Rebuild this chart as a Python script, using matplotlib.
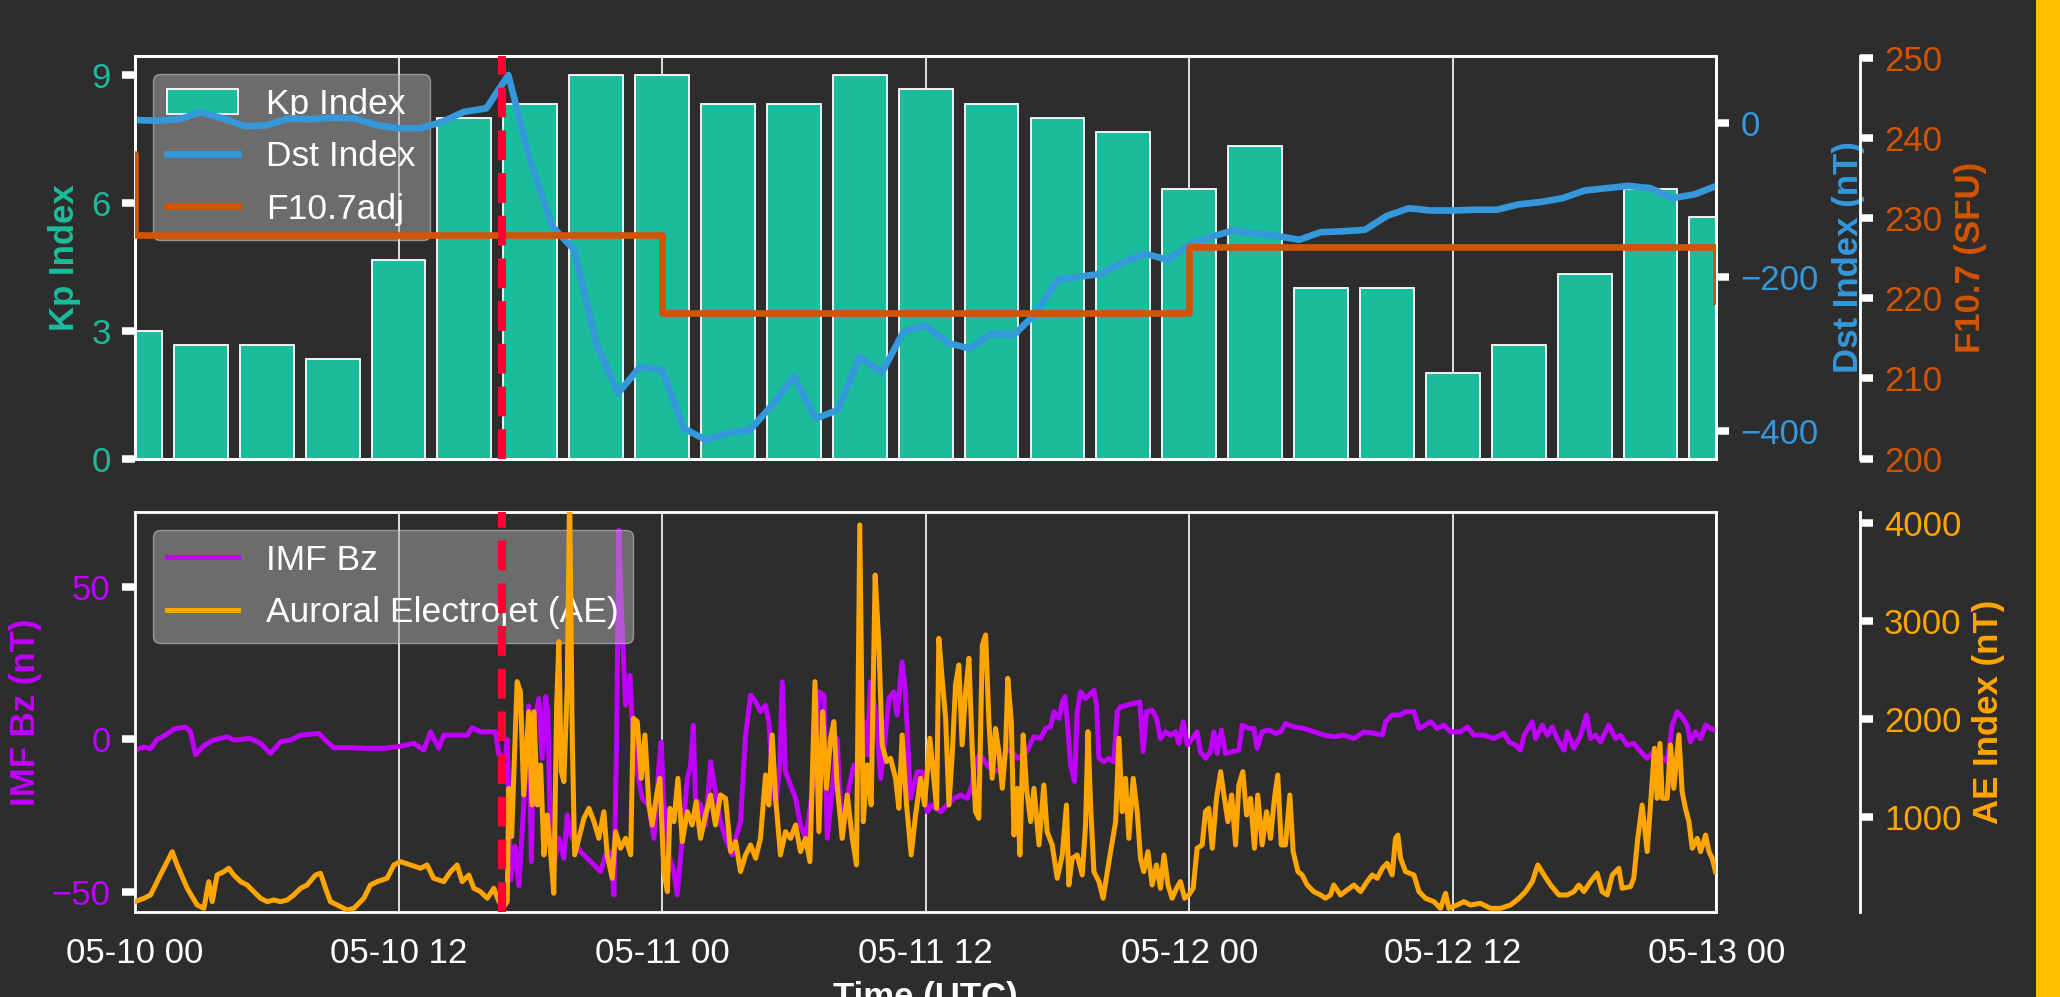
import numpy as np
import pandas as pd
import matplotlib
matplotlib.use('Agg')
from matplotlib import pyplot as plt
import matplotlib.dates as mdates
from matplotlib.patches import Rectangle

plt.rcParams['font.family'] = ['Liberation Sans', 'DejaVu Sans']
plt.rcParams['font.size'] = 25

BG = '#2d2d2d'
KP_C = '#1abc9c'
DST_C = '#3498db'
F107_C = '#d35400'
BZ_C = '#bf00ff'
AE_C = '#ffa500'
ONSET_C = '#ff0033'

start = pd.Timestamp('2024-05-10 00:00')
end = pd.Timestamp('2024-05-13 00:00')
onset = pd.Timestamp('2024-05-10 16:43')


def at(hours):
    return start + pd.to_timedelta(np.asarray(hours, dtype=float), unit='h')


# 3-hourly Kp
kp_hours = np.arange(0, 73, 3)
kp = [3.0, 2.67, 2.67, 2.33, 4.67, 8.0, 8.33, 9.0, 9.0, 8.33, 8.33, 9.0, 8.67,
      8.33, 8.0, 7.67, 6.33, 7.33, 4.0, 4.0, 2.0, 2.67, 4.33, 6.33, 5.67]

# hourly Dst (nT)
dst_hours = np.arange(0, 73)
dst = [3.5, 2.6, 4.4, 13.5, 5.7, -4.3, -3.4, 5.7, 4.4, 6.5, 5.7, -3, -7.3,
       -7.3, 1.3, 14.3, 18.7, 62, -50, -135, -165, -286, -351, -317, -321,
       -397, -412, -403, -399, -367, -330, -384, -373, -304, -325, -271, -263,
       -286, -293, -274, -276, -248, -204, -200, -196, -181, -170, -178, -159,
       -148, -140, -144, -147, -152, -142, -141, -139, -121, -111, -114, -114,
       -113, -113, -106, -103, -98, -88, -85, -82, -85, -98, -93, -82]

# daily adjusted F10.7 (SFU)
f107_days = [-1, 0, 1, 2, 3]
f107 = [238.0, 227.9, 218.1, 226.4, 219.7]

# IMF Bz (hour, nT)
bz_pts = [
    (0.0, -3.5), (0.41, -2.5), (0.71, -3), (1.01, 0), (1.39, 1.4), (1.77, 3.4), (2.30, 4.1),
    (2.53, 2.5), (2.76, -5), (3.14, -2), (3.59, -0.2), (4.2, 0.9), (4.5, -0.2), (5.26, 0.3),
    (5.72, -1.3), (6.17, -4.6), (6.63, -0.8), (7.08, -0.2), (7.54, 1.4), (8.37, 2), (8.75, -0.8),
    (9.05, -2.7), (9.81, -2.7), (10.57, -2.9), (11.33, -2.9), (11.94, -2.4), (12.7, -1.3),
    (13.15, -3.5), (13.46, 2.5), (13.61, 0.3), (13.83, -2.9), (14.06, 1.4), (14.67, 1.4),
    (15.12, 1.4), (15.35, 3.8), (15.73, 2.5), (16.41, 2.5), (16.57, -5),
    (16.64, -5), (16.8, -12), (16.95, 0), (17.1, -46), (17.3, -35), (17.48, -48), (17.7, -21.5),
    (17.93, 11), (18.05, -40), (18.17, 5.8), (18.39, 13.4), (18.54, -6.2), (18.7, 14), (18.8, 9),
    (18.92, -32.4), (19.07, -41.1), (19.3, -32.4), (19.53, -38.9), (19.68, -24.8), (19.83, -31.3),
    (20.29, -36.8), (20.59, -38.9), (20.9, -41.1), (21.2, -43.3), (21.43, -37.8), (21.66, -36.8),
    (21.81, -50.9), (21.93, 0.3), (22.03, 68.5), (22.14, 43.9), (22.34, 11.2), (22.54, 21),
    (22.64, 5.8), (22.87, -10.6), (23.1, -19.3), (23.4, -21.5), (23.63, -32.4), (23.86, -8.4),
    (23.96, -0.8), (24.08, -21.5), (24.31, -37.8), (24.54, -43.3), (24.69, -50.9), (24.92, -32.4),
    (25.15, -12.8), (25.3, -8.4), (25.42, 4.7), (25.52, -19.3), (25.75, -21.5), (25.98, -28),
    (26.21, -7.3), (26.43, -17.1), (26.66, -26.9), (26.89, -32.4), (27.19, -37.8), (27.35, -32.4),
    (27.57, -26.9), (27.8, 1.4), (28.03, 14.5), (28.26, 12.3), (28.48, 9.1), (28.71, 11.2),
    (28.86, 5.8), (29.01, -10.6), (29.17, -21.5), (29.36, -8.4), (29.47, 18.9), (29.62, -10.6),
    (29.85, -14.9), (30.08, -19.3), (30.3, -28), (30.53, -32.4), (30.76, -21.5), (30.99, -6.2),
    (31.14, 15.6), (31.37, 14.5), (31.52, -32.4), (31.75, -16), (31.97, 0.3), (32.2, -32.4),
    (32.5, -16), (32.73, -8.4), (32.96, -10.6), (33.19, 5.8), (33.34, -5.1), (33.49, 18.9),
    (33.72, 9.1), (33.95, -12.8), (34.17, 1.4), (34.33, 13.4), (34.55, 15.6), (34.7, 8),
    (34.93, 25.4), (35.08, 15.6), (35.31, -19.3), (35.62, -10.6), (35.84, -10.6), (36.07, -23.7),
    (36.3, -21.5), (36.38, -22), (36.68, -23.7), (36.98, -21.5), (37.29, -19.3), (37.59, -18.2),
    (37.89, -19.3), (38.12, -14.9), (38.27, -6.2), (38.5, -5.1), (38.8, -8.4), (39.11, -10.6),
    (39.41, -9.5), (39.64, -4), (39.87, -3.5), (40.17, -6.2), (40.55, -4.6), (40.93, 0.9),
    (41.23, 0.3), (41.46, 3.6), (41.69, 4.1), (41.84, 9.1), (42.07, 6.9), (42.22, 12.3),
    (42.34, 14), (42.45, 5.8), (42.6, -8.4), (42.78, -13.8), (42.9, 9.1), (43.05, 15.6),
    (43.28, 13.4), (43.51, 15), (43.66, 16.1), (43.78, 11.2), (43.89, -6.2), (44.11, -7.3),
    (44.34, -6.2), (44.57, -7.3), (44.72, 9.1), (44.87, 10.7), (45.18, 11.2), (45.48, 11.8),
    (45.75, 12.3), (45.9, -4), (46.06, 9.1), (46.31, 9.6), (46.51, 6.9), (46.69, 0.3),
    (46.92, 2.5), (47.15, 1.4), (47.38, 2.5), (47.53, -1.3), (47.73, 5.8), (47.91, -1.9),
    (48.14, 0.3), (48.36, 2.5), (48.51, -4), (48.74, -6.2), (48.97, -4), (49.12, 2.5),
    (49.27, -4.6), (49.46, 3.1), (49.65, -4.6), (49.96, -4), (50.26, -3.5), (50.41, 4.7),
    (50.71, 3.6), (50.94, 3.6), (51.09, -2.9), (51.32, 2.5), (51.63, 3.1), (51.93, 2),
    (52.16, 2.5), (52.38, 5.2), (52.76, 4.1), (53.22, 3.6), (53.67, 2.5), (54.13, 1.4),
    (54.58, 0.9), (55.04, 1.4), (55.5, 0.3), (55.95, 2.5), (56.41, 2), (56.79, 1.4), (56.94, 5.8),
    (57.24, 8), (57.62, 8), (57.85, 9.1), (58.23, 9.1), (58.46, 3.6), (58.76, 4.7), (58.99, 5.8),
    (59.29, 3.6), (59.59, 4.7), (59.9, 2.5), (60.35, 2.5), (60.66, 4.1), (60.96, 1.4),
    (61.41, 1.4), (61.87, 0.3), (62.33, 2), (62.55, -0.8), (62.86, -1.9), (63.08, -3.5),
    (63.24, 1.4), (63.62, 5.8), (63.77, 0.3), (64.07, 4.7), (64.3, 1.4), (64.53, 4.1),
    (64.75, 0.3), (65.06, -3.5), (65.21, 2.5), (65.51, -2.9), (65.82, 1.4), (66.09, 8),
    (66.27, 0.3), (66.5, 1.4), (66.73, -0.8), (67.1, 4.7), (67.41, 0.3), (67.64, 1.4),
    (67.94, -1.9), (68.24, -1.3), (68.55, -4), (68.85, -6.2), (69.15, -4), (69.38, -5.1),
    (69.61, -6.2), (69.76, -7.3), (69.99, 4.7), (70.22, 9.1), (70.44, 7.4), (70.67, 4.7),
    (70.82, -0.8), (71.05, 2.5), (71.28, 0.3), (71.51, 4.7), (71.73, 3.6), (71.96, 3.1),
]

# auroral electrojet (hour, nT)
ae_pts = [
    (0.0, 137), (0.41, 171), (0.71, 205), (1.16, 409), (1.47, 545), (1.70, 646), (1.92, 511),
    (2.38, 273), (2.83, 103), (3.14, 69), (3.36, 341), (3.52, 137), (3.74, 409), (4.05, 443),
    (4.27, 477), (4.50, 409), (4.81, 341), (5.11, 307), (5.41, 239), (5.72, 171), (6.02, 137),
    (6.32, 154), (6.63, 137), (6.93, 154), (7.23, 205), (7.54, 273), (7.84, 307), (8.22, 409),
    (8.45, 426), (8.68, 273), (8.90, 137), (9.21, 103), (9.66, 52), (9.97, 69), (10.42, 171),
    (10.72, 307), (11.03, 341), (11.48, 375), (11.79, 511), (12.09, 545), (12.54, 511),
    (13.0, 477), (13.3, 511), (13.6, 375), (14.06, 341), (14.37, 443), (14.67, 511), (14.9, 341),
    (15.2, 409), (15.43, 273), (15.73, 239), (16.04, 171), (16.34, 273), (16.57, 137),
    (16.79, 86), (16.95, 137), (17.02, 1292), (17.15, 800), (17.4, 2379), (17.55, 2277),
    (17.7, 1224), (17.93, 2073), (18.08, 1122), (18.17, 2073), (18.32, 1122), (18.47, 1530),
    (18.62, 613), (18.77, 1020), (18.92, 647), (19.07, 222), (19.2, 2141), (19.3, 2787),
    (19.41, 1462), (19.53, 1360), (19.68, 2311), (19.79, 4300), (19.91, 1802), (20.02, 613),
    (20.21, 782), (20.44, 986), (20.67, 1088), (20.9, 952), (21.12, 782), (21.35, 1054),
    (21.5, 613), (21.73, 375), (21.88, 850), (22.11, 681), (22.34, 782), (22.57, 613),
    (22.69, 2005), (22.87, 1972), (23.05, 1394), (23.22, 1836), (23.4, 1122), (23.55, 918),
    (23.75, 1224), (23.9, 1394), (24.08, 443), (24.24, 239), (24.36, 1088), (24.54, 952),
    (24.72, 1394), (24.92, 748), (25.15, 1054), (25.37, 918), (25.55, 1156), (25.75, 782),
    (25.98, 1020), (26.21, 1224), (26.43, 918), (26.66, 1224), (26.89, 1190), (27.12, 647),
    (27.35, 748), (27.57, 443), (27.8, 613), (28.03, 715), (28.26, 579), (28.48, 782),
    (28.71, 1428), (28.86, 1122), (29.01, 1836), (29.17, 1190), (29.39, 613), (29.62, 850),
    (29.85, 782), (30.08, 918), (30.3, 647), (30.53, 782), (30.73, 545), (30.96, 2379),
    (31.14, 850), (31.31, 2073), (31.49, 1292), (31.67, 1802), (31.82, 1972), (31.97, 1326),
    (32.2, 782), (32.43, 1224), (32.66, 782), (32.85, 511), (33.0, 3976), (33.16, 952),
    (33.34, 1530), (33.52, 1122), (33.7, 3466), (33.87, 2753), (34.02, 1734), (34.22, 1564),
    (34.4, 1598), (34.63, 1394), (34.78, 1088), (34.93, 1836), (35.13, 1122), (35.34, 613),
    (35.54, 1020), (35.77, 1394), (35.95, 1122), (36.19, 1802), (36.34, 1462), (36.5, 1088),
    (36.6, 2821), (36.75, 2413), (36.91, 2005), (37.06, 1122), (37.21, 1632), (37.36, 2345),
    (37.51, 2549), (37.66, 1734), (37.82, 2277), (37.97, 2617), (38.12, 1700), (38.27, 1054),
    (38.42, 986), (38.58, 2753), (38.73, 2855), (38.88, 1972), (39.03, 1394), (39.18, 1903),
    (39.33, 1666), (39.49, 1292), (39.64, 1700), (39.74, 2413), (39.9, 1972), (40.02, 816),
    (40.17, 1292), (40.29, 613), (40.44, 1836), (40.59, 1292), (40.78, 952), (40.93, 1292),
    (41.16, 715), (41.38, 1326), (41.53, 850), (41.76, 715), (41.99, 375), (42.22, 613),
    (42.41, 1122), (42.52, 307), (42.67, 579), (42.9, 613), (43.13, 409), (43.28, 918),
    (43.39, 1870), (43.51, 1122), (43.66, 443), (43.89, 341), (44.08, 171), (44.27, 443),
    (44.42, 647), (44.65, 952), (44.8, 1802), (44.95, 1054), (45.1, 1394), (45.25, 782),
    (45.45, 1394), (45.63, 1054), (45.78, 579), (45.93, 443), (46.12, 647), (46.31, 307),
    (46.51, 511), (46.69, 273), (46.85, 613), (47.03, 307), (47.22, 171), (47.42, 273),
    (47.6, 341), (47.79, 171), (47.98, 205), (48.18, 273), (48.36, 681), (48.59, 715),
    (48.74, 1054), (48.89, 1088), (49.05, 681), (49.24, 1190), (49.43, 1462), (49.58, 1224),
    (49.76, 952), (49.93, 1224), (50.11, 715), (50.26, 1326), (50.44, 1462), (50.61, 1020),
    (50.79, 1190), (50.97, 681), (51.12, 1224), (51.32, 715), (51.52, 1054), (51.7, 782),
    (51.88, 1190), (52.03, 1428), (52.19, 715), (52.38, 715), (52.58, 1224), (52.73, 647),
    (52.95, 443), (53.14, 409), (53.37, 307), (53.67, 239), (53.98, 205), (54.2, 171),
    (54.43, 205), (54.58, 307), (54.89, 205), (55.19, 256), (55.5, 307), (55.8, 239),
    (56.1, 341), (56.33, 409), (56.56, 375), (56.79, 477), (57.01, 528), (57.24, 409),
    (57.39, 782), (57.5, 816), (57.62, 579), (57.85, 443), (58.23, 409), (58.46, 239),
    (58.76, 171), (59.14, 137), (59.44, 69), (59.67, 222), (59.82, 69), (60.2, 103),
    (60.5, 137), (60.81, 103), (61.26, 120), (61.72, 69), (62.17, 69), (62.63, 103),
    (63.01, 171), (63.31, 239), (63.62, 341), (63.87, 511), (64.15, 409), (64.45, 307),
    (64.83, 205), (65.21, 205), (65.51, 239), (65.74, 307), (65.97, 239), (66.27, 341),
    (66.57, 426), (66.8, 239), (67.03, 205), (67.26, 409), (67.56, 477), (67.71, 273),
    (68.09, 290), (68.24, 375), (68.42, 782), (68.62, 1122), (68.85, 647), (69.0, 1122),
    (69.18, 1700), (69.3, 1190), (69.43, 1750), (69.53, 1190), (69.76, 1190), (69.91, 1734),
    (70.06, 1292), (70.29, 1836), (70.44, 1258), (70.59, 1088), (70.75, 952), (70.9, 681),
    (71.13, 782), (71.28, 647), (71.51, 816), (71.66, 647), (71.81, 579), (71.96, 443),
]

bz_hours, bz = np.array(bz_pts).T
ae_hours, ae = np.array(ae_pts).T

fig = plt.figure(figsize=(20.6, 9.97), dpi=100, facecolor=BG)
ax_kp = fig.add_axes([0.0655, 0.5401, 0.7677, 0.4037])
ax_bz = fig.add_axes([0.0655, 0.0853, 0.7677, 0.4012], sharex=ax_kp)
ax_dst = ax_kp.twinx()
ax_f107 = ax_kp.twinx()
ax_ae = ax_bz.twinx()

for ax in (ax_kp, ax_bz):
    ax.set_facecolor(BG)
    ax.set_axisbelow(True)
    ax.grid(axis='x', color='white', lw=1.2)
for ax in (ax_kp, ax_bz, ax_dst, ax_f107, ax_ae):
    for sp in ax.spines.values():
        sp.set_color('white')
        sp.set_linewidth(2)
for ax in (ax_f107, ax_ae):
    ax.spines['right'].set_position(('axes', 1.0907))
    for side in ('left', 'top', 'bottom'):
        ax.spines[side].set_visible(False)

# top panel
ax_kp.bar(at(kp_hours), kp, width=2.45 / 24, color=KP_C, edgecolor='white',
          linewidth=1.3, label='Kp Index')
ax_dst.plot(at(dst_hours), dst, color=DST_C, lw=4.8, label='Dst Index')
f107_t = start + pd.to_timedelta(f107_days, unit='D')
ax_f107.step(f107_t, f107, where='post', color=F107_C, lw=4.8, label='F10.7adj')
ax_f107.axvline(onset, color=ONSET_C, ls='--', lw=5.8)

# bottom panel
ax_bz.plot(at(bz_hours), bz, color=BZ_C, lw=3.6, label='IMF Bz')
ax_ae.plot(at(ae_hours), ae, color=AE_C, lw=3.6, label='Auroral Electrojet (AE)')
ax_ae.axvline(onset, color=ONSET_C, ls='--', lw=5.8)

ax_kp.set_xlim(start, end)
ax_kp.set_ylim(0, 9.45)
ax_kp.set_yticks([0, 3, 6, 9])
ax_dst.set_ylim(-436, 86.6)
ax_dst.set_yticks([-400, -200, 0])
ax_f107.set_ylim(200, 250.2)
ax_f107.set_yticks(np.arange(200, 251, 10))
ax_bz.set_ylim(-56.5, 74.5)
ax_bz.set_yticks([-50, 0, 50])
ax_ae.set_ylim(32, 4108)
ax_ae.set_yticks([1000, 2000, 3000, 4000])

for ax, c in ((ax_kp, KP_C), (ax_dst, DST_C), (ax_f107, F107_C),
              (ax_bz, BZ_C), (ax_ae, AE_C)):
    ax.tick_params(axis='y', color='white', labelcolor=c, length=9.5, width=5.4, pad=8)

ax_bz.xaxis.set_major_locator(mdates.HourLocator(byhour=[0, 12]))
ax_bz.xaxis.set_major_formatter(mdates.DateFormatter('%m-%d %H'))
ax_kp.tick_params(axis='x', length=0, labelbottom=False)
ax_bz.tick_params(axis='x', length=0, pad=18, labelcolor='white')

ax_kp.set_ylabel('Kp Index', color=KP_C, fontweight='bold', labelpad=7.5)
ax_dst.set_ylabel('Dst Index (nT)', color=DST_C, fontweight='bold', labelpad=9.5)
ax_f107.set_ylabel('F10.7 (SFU)', color=F107_C, fontweight='bold', labelpad=8.5)
ax_bz.set_ylabel('IMF Bz (nT)', color=BZ_C, fontweight='bold', labelpad=7)
ax_ae.set_ylabel('AE Index (nT)', color=AE_C, fontweight='bold', labelpad=7.5)
ax_bz.set_xlabel('Time (UTC)', color='white', fontweight='bold', labelpad=8)

legend_style = dict(loc='upper left', facecolor='#ababab', edgecolor='#dddddd',
                    framealpha=0.5, labelcolor='white', fontsize=25.5,
                    labelspacing=0.55)
handles = []
labels = []
for ax in (ax_kp, ax_dst, ax_f107):
    h, l = ax.get_legend_handles_labels()
    handles += h
    labels += l
ax_kp.legend(handles, labels, **legend_style)

h1, l1 = ax_bz.get_legend_handles_labels()
h2, l2 = ax_ae.get_legend_handles_labels()
ax_bz.legend(h1 + h2, l1 + l2, **legend_style)

fig.add_artist(Rectangle((2036 / 2060, 0), 1, 1, transform=fig.transFigure,
                         facecolor='#ffc000', edgecolor='none'))

fig.savefig('out.png', dpi=100, facecolor=BG)
